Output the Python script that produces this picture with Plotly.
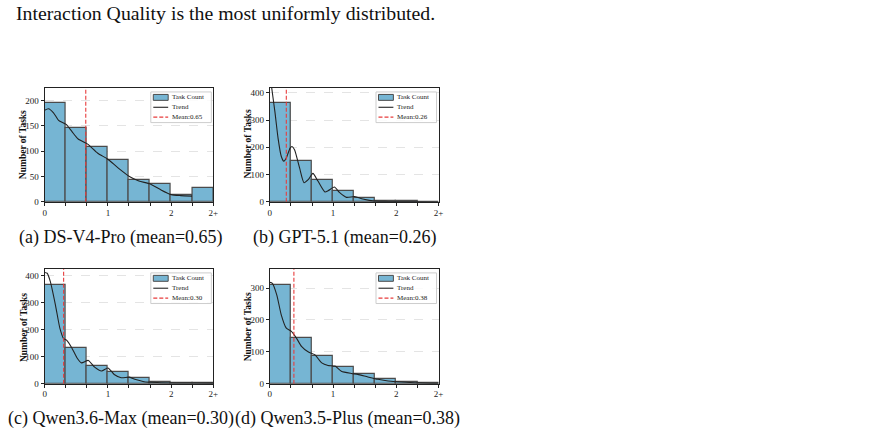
import plotly.graph_objects as go

# ---------------- data ----------------
bin_width = 1 / 3
x_tick_vals = [0, 1/3, 2/3, 1, 4/3, 5/3, 2, 7/3, 8/3]
x_tick_text = ["0", "", "", "1", "", "", "2", "", "2+"]

models = ["DS-V4-Pro", "GPT-5.1", "Qwen3.6-Max", "Qwen3.5-Plus"]
letters = ["a", "b", "c", "d"]
means = [0.65, 0.26, 0.30, 0.38]

counts_a = [195, 146, 108, 82, 43, 35, 13, 27]
counts_b = [362, 151, 80, 40, 14, 2, 1, 0]
counts_c = [366, 134, 67, 45, 20, 5, 4, 4]
counts_d = [309, 143, 87, 51, 31, 14, 6, 3]

trend_a_x = [0, 0.06, 0.14, 0.22, 0.34, 0.43, 0.53, 0.68, 0.84, 1.0, 1.16, 1.34, 1.49, 1.67, 1.83, 2.0, 2.15, 2.33]
trend_a_y = [181, 184, 176, 161, 153, 139, 124, 114, 96, 84, 67, 50, 41, 35, 24, 14, 12, 11]

trend_b_x = [0, 0.03, 0.08, 0.13, 0.18, 0.22, 0.26, 0.32, 0.35, 0.39, 0.47, 0.54, 0.61, 0.68, 0.76, 0.87, 0.92, 1.02, 1.1, 1.21, 1.34, 1.47, 1.66, 1.87, 2.29, 2.67]
trend_b_y = [480, 417, 330, 233, 167, 149, 161, 197, 203, 191, 124, 70, 82, 104, 76, 36, 40, 54, 34, 16, 19, 10, 2, 1, 0.3, 0.1]

trend_c_x = [0, 0.04, 0.09, 0.17, 0.24, 0.30, 0.35, 0.43, 0.51, 0.58, 0.69, 0.79, 0.9, 1.0, 1.1, 1.21, 1.34, 1.44, 1.57, 1.78, 2.09, 2.33, 2.66]
trend_c_y = [412, 409, 378, 292, 206, 167, 160, 132, 96, 77, 86, 61, 47, 58, 34, 22, 24, 15, 7, 4, 2.5, 2.5, 2]

trend_d_x = [0, 0.04, 0.11, 0.18, 0.26, 0.34, 0.42, 0.5, 0.61, 0.71, 0.82, 0.92, 1.03, 1.13, 1.29, 1.39, 1.55, 1.71, 1.87, 2.0, 2.29, 2.67]
trend_d_y = [318, 315, 278, 216, 174, 164, 143, 117, 99, 91, 65, 57, 55, 39, 32, 29, 21, 13.5, 8, 6, 3, 1]

y_ranges = [225, 418, 425, 360]
y_ticks = [[0, 50, 100, 150, 200], [0, 100, 200, 300, 400], [0, 100, 200, 300, 400], [0, 100, 200, 300]]

legend_labels = ["Task Count", "Trend", "Mean"]
header_text = "Interaction Quality is the most uniformly distributed."

# ---------------- layout geometry (pixels) ----------------
W, H = 884, 444
boxes = [  # x0, x1, ytop, ybottom
    (43, 213, 89, 204),
    (270, 440, 89, 204),
    (43, 213, 272, 388),
    (270, 440, 272, 388),
]
ytitle_pos = [(22, 146), (248, 146), (22, 331), (248, 331)]
caption_pos = [(16, 240), (252, 240), (5, 423), (234, 423)]

SERIF = "Liberation Serif"
BAR_COLOR = "rgb(118,181,211)"
EDGE_COLOR = "rgb(75,75,75)"
MEAN_COLOR = "rgb(232,60,60)"
TREND_COLOR = "#222222"


def px(x):
    return x / W


def py(y):
    return (H - y) / H


counts_all = [counts_a, counts_b, counts_c, counts_d]
trends = [(trend_a_x, trend_a_y), (trend_b_x, trend_b_y), (trend_c_x, trend_c_y), (trend_d_x, trend_d_y)]

fig = go.Figure()
layout = dict(
    width=W, height=H,
    margin=dict(l=0, r=0, t=0, b=0),
    paper_bgcolor="white", plot_bgcolor="white",
    showlegend=False,
    font=dict(family=SERIF, color="#222"),
    bargap=0,
)
annotations = []
shapes = []

for i in range(4):
    sfx = "" if i == 0 else str(i + 1)
    xa, ya = "x" + sfx, "y" + sfx
    counts = counts_all[i]
    centers = [bin_width * (k + 0.5) for k in range(len(counts))]

    fig.add_trace(go.Bar(
        x=centers, y=counts, width=[bin_width] * len(counts),
        marker=dict(color=BAR_COLOR, line=dict(color=EDGE_COLOR, width=1.2)),
        name=legend_labels[0], xaxis=xa, yaxis=ya,
    ))
    tx, ty = trends[i]
    fig.add_trace(go.Scatter(
        x=tx, y=ty, mode="lines",
        line=dict(color=TREND_COLOR, width=1.1, shape="spline", smoothing=0.6),
        name=legend_labels[1], xaxis=xa, yaxis=ya,
    ))
    fig.add_trace(go.Scatter(
        x=[means[i], means[i]], y=[0, y_ranges[i]], mode="lines",
        line=dict(color=MEAN_COLOR, width=1.1, dash="4px,2px"),
        name="Mean:%.2f" % means[i], xaxis=xa, yaxis=ya,
    ))

    x0, x1, yt, yb = boxes[i]
    xkey = "xaxis" if i == 0 else "xaxis" + str(i + 1)
    ykey = "yaxis" if i == 0 else "yaxis" + str(i + 1)
    layout[xkey] = dict(
        domain=[px(x0), px(x1)], anchor=ya, range=[0, 8/3],
        tickvals=x_tick_vals, ticktext=x_tick_text,
        ticks="outside", ticklen=3, tickwidth=1, tickcolor="#222",
        showline=True, linecolor="#222", linewidth=1, mirror=True,
        showgrid=False, zeroline=False, ticklabelstandoff=-1,
        tickfont=dict(size=9, family=SERIF, color="#222"),
    )
    layout[ykey] = dict(
        domain=[py(yb), py(yt)], anchor=xa, range=[0, y_ranges[i]],
        tickvals=y_ticks[i], ticks="outside", ticklen=3, tickwidth=1, tickcolor="#222",
        showline=True, linecolor="#222", linewidth=1, mirror=True,
        showgrid=True, gridcolor="rgb(228,228,228)", griddash="dash", gridwidth=0.8,
        zeroline=False,
        tickfont=dict(size=9, family=SERIF, color="#222"),
    )

    # ---- legend (drawn as decoration inside the axes, upper right) ----
    R, T = x1 - 2, yt + 4
    L, B = R - 61, T + 31
    shapes.append(dict(type="rect", xref="paper", yref="paper", layer="above",
                       x0=px(L), x1=px(R), y0=py(B), y1=py(T),
                       fillcolor="rgba(255,255,255,0.85)", line=dict(color="rgb(205,205,205)", width=1)))
    rows = [T + 5.5, T + 15.5, T + 25.5]
    hx0, hx1 = L + 2.5, L + 17.5
    shapes.append(dict(type="rect", xref="paper", yref="paper", layer="above",
                       x0=px(hx0), x1=px(hx1), y0=py(rows[0] + 3), y1=py(rows[0] - 3),
                       fillcolor=BAR_COLOR, line=dict(color=EDGE_COLOR, width=1)))
    shapes.append(dict(type="line", xref="paper", yref="paper", layer="above",
                       x0=px(hx0), x1=px(hx1), y0=py(rows[1]), y1=py(rows[1]),
                       line=dict(color=TREND_COLOR, width=1.1)))
    shapes.append(dict(type="line", xref="paper", yref="paper", layer="above",
                       x0=px(hx0), x1=px(hx1), y0=py(rows[2]), y1=py(rows[2]),
                       line=dict(color=MEAN_COLOR, width=1.1, dash="4px,2px")))
    labels = [legend_labels[0], legend_labels[1], "%s:%.2f" % (legend_labels[2], means[i])]
    for r, lab in zip(rows, labels):
        annotations.append(dict(
            x=px(hx1 + 3), y=py(r), xref="paper", yref="paper", text=lab,
            showarrow=False, xanchor="left", yanchor="middle", borderpad=0,
            font=dict(size=7, family=SERIF, color="#222"),
        ))

    tx_, ty_ = ytitle_pos[i]
    annotations.append(dict(
        x=px(tx_), y=py(ty_), xref="paper", yref="paper",
        text="<b>Number of Tasks</b>", textangle=-90, showarrow=False,
        xanchor="center", yanchor="middle",
        font=dict(size=9.5, family=SERIF, color="#111"),
    ))
    cx, cy = caption_pos[i]
    annotations.append(dict(
        x=px(cx), y=py(cy), xref="paper", yref="paper",
        text="(%s) %s (mean=%.2f)" % (letters[i], models[i], means[i]),
        showarrow=False, xanchor="left", yanchor="middle", borderpad=0,
        font=dict(size=18, family=SERIF, color="#111"),
    ))

annotations.append(dict(
    x=px(13), y=py(13), xref="paper", yref="paper",
    text=header_text, showarrow=False, xanchor="left", yanchor="middle", borderpad=0,
    font=dict(size=19.8, family=SERIF, color="#111"),
))
layout["annotations"] = annotations
layout["shapes"] = shapes
fig.update_layout(**layout)
fig.write_html("out.html")
